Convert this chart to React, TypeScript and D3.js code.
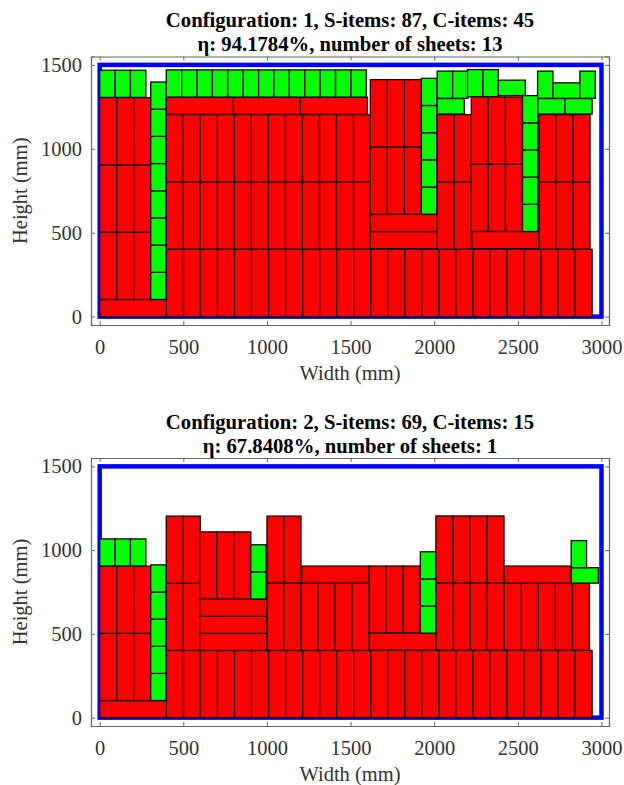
import React, { useEffect, useRef } from 'react';
import * as d3 from 'd3';

// item sizes in mm: [width, height] as placed upright
const sItem = [101.8, 401];
const cItem = [92, 162];

// runs of identical items: [kind, rotated, x, y, columns, rows]
type Run = [string, number, number, number, number, number];

const sheetOneRuns: Run[] = [
    ['S', 1, 0, 0, 1, 1],
    ['S', 0, 0, 102, 3, 3],
    ['C', 0, 305, 102, 1, 8],
    ['C', 0, 0, 1306, 3, 1],
    ['S', 0, 399, 0, 25, 1],
    ['S', 0, 398, 402, 12, 2],
    ['S', 1, 398, 1205, 3, 1],
    ['C', 0, 398, 1308, 13, 1],
    ['S', 0, 1618, 610, 3, 2],
    ['S', 1, 1618, 405, 1, 2],
    ['C', 0, 1923, 610, 1, 5],
    ['S', 0, 2018, 402, 2, 2],
    ['C', 1, 2018, 1207, 1, 1],
    ['C', 0, 2018, 1301, 2, 1],
    ['C', 0, 2199, 1310, 2, 1],
    ['C', 1, 2383, 1317, 1, 1],
    ['S', 0, 2222, 507, 3, 2],
    ['S', 1, 2225, 405, 1, 1],
    ['C', 0, 2528, 507, 1, 5],
    ['S', 0, 2626, 402, 3, 2],
    ['C', 1, 2620, 1207, 2, 1],
    ['C', 0, 2618, 1301, 1, 1],
    ['C', 1, 2710, 1301, 1, 1],
    ['C', 0, 2871, 1301, 1, 1]
];

const sheetTwoRuns: Run[] = [
    ['S', 1, 0, 0, 1, 1],
    ['S', 0, 0, 102, 3, 2],
    ['C', 0, 0, 905, 3, 1],
    ['C', 0, 305, 102, 1, 5],
    ['S', 0, 399, 0, 25, 1],
    ['S', 0, 398, 401, 2, 2],
    ['S', 1, 598, 401, 1, 3],
    ['S', 0, 598, 708, 3, 1],
    ['C', 0, 903, 708, 1, 2],
    ['S', 0, 1000, 802, 2, 1],
    ['S', 0, 1000, 401, 6, 1],
    ['S', 1, 1208, 803, 1, 1],
    ['S', 0, 1610, 504, 3, 1],
    ['S', 1, 1610, 403, 1, 1],
    ['C', 0, 1917, 504, 1, 3],
    ['S', 0, 2010, 803, 4, 1],
    ['S', 0, 2012, 402, 9, 1],
    ['S', 1, 2419, 803, 1, 1],
    ['C', 1, 2819, 803, 1, 1],
    ['C', 0, 2819, 895, 1, 1]
];

const sheetTitles = [
    ['Configuration: 1, S-items: 87, C-items: 45', 'η: 94.1784%, number of sheets: 13'],
    ['Configuration: 2, S-items: 69, C-items: 15', 'η: 67.8408%, number of sheets: 1']
];

const xTicks = [0, 500, 1000, 1500, 2000, 2500, 3000];
const yTicks = [0, 500, 1000, 1500];

const width = 624;
const height = 785;
const left = 91;
const right = 609;
const font = '"Liberation Serif", serif';

// one rectangle per item out of the runs
function expand(runs: Run[]) {
    const items: any[] = [];
    runs.forEach(([kind, rotated, x, y, cols, rows]) => {
        const base = kind === 'S' ? sItem : cItem;
        const w = rotated ? base[1] : base[0];
        const h = rotated ? base[0] : base[1];
        for (let r = 0; r < rows; r++) {
            for (let c = 0; c < cols; c++) {
                items.push({ kind, x: x + c * w, y: y + r * h, w, h });
            }
        }
    });
    return items;
}

function Sheet({ runs, titles, top, bottom }: { runs: Run[]; titles: string[]; top: number; bottom: number }) {
    const xAxisRef = useRef<SVGGElement>(null);
    const yAxisRef = useRef<SVGGElement>(null);
    const xAxisTopRef = useRef<SVGGElement>(null);
    const yAxisRightRef = useRef<SVGGElement>(null);

    const xScale = d3.scaleLinear().domain([-52, 3045]).range([left, right]);
    const yScale = d3.scaleLinear().domain([-50, 1550]).range([bottom, top]);

    useEffect(() => {
        const style = (sel: any) => {
            sel.selectAll('path').attr('stroke', '#666').attr('stroke-width', 1.2);
            sel.selectAll('line').attr('stroke', '#666').attr('stroke-width', 1);
            sel.selectAll('text').attr('fill', '#333').attr('font-family', font).attr('font-size', 20.5);
        };
        const xb = d3.select(xAxisRef.current!);
        xb.call(d3.axisBottom(xScale).tickValues(xTicks).tickFormat(d3.format('d') as any).tickSize(-4).tickPadding(14));
        style(xb);
        const yl = d3.select(yAxisRef.current!);
        yl.call(d3.axisLeft(yScale).tickValues(yTicks).tickFormat(d3.format('d') as any).tickSize(-4).tickPadding(9));
        style(yl);
        const xt = d3.select(xAxisTopRef.current!);
        xt.call(d3.axisTop(xScale).tickValues(xTicks).tickFormat(() => '').tickSize(-4));
        style(xt);
        const yr = d3.select(yAxisRightRef.current!);
        yr.call(d3.axisRight(yScale).tickValues(yTicks).tickFormat(() => '').tickSize(-4));
        style(yr);
    }, []);

    const items = expand(runs);
    const midX = (left + right) / 2;
    const midY = (top + bottom) / 2;

    return (
        <g>
            <text x={350} y={top - 29.5} textAnchor="middle" fontFamily={font} fontWeight="bold" fontSize={20.7} fill="#000">{titles[0]}</text>
            <text x={350} y={top - 5.5} textAnchor="middle" fontFamily={font} fontWeight="bold" fontSize={20.7} fill="#000">{titles[1]}</text>
            <rect
                x={xScale(0)}
                y={yScale(1500)}
                width={xScale(3000) - xScale(0)}
                height={yScale(0) - yScale(1500)}
                fill="none"
                stroke="#0000ff"
                strokeWidth={4.5}
            />
            {items.map((d, i) => (
                <rect
                    key={i}
                    x={xScale(d.x)}
                    y={yScale(d.y + d.h)}
                    width={xScale(d.x + d.w) - xScale(d.x)}
                    height={yScale(d.y) - yScale(d.y + d.h)}
                    fill={d.kind === 'S' ? '#ff0000' : '#00ff00'}
                    stroke="#1a0000"
                    strokeWidth={1.3}
                />
            ))}
            <g ref={xAxisRef} transform={`translate(0, ${bottom})`} />
            <g ref={yAxisRef} transform={`translate(${left}, 0)`} />
            <g ref={xAxisTopRef} transform={`translate(0, ${top})`} />
            <g ref={yAxisRightRef} transform={`translate(${right}, 0)`} />
            <text x={midX} y={bottom + 54.5} textAnchor="middle" fontFamily={font} fontSize={20.5} fill="#333">Width (mm)</text>
            <text transform={`translate(27, ${midY}) rotate(-90)`} textAnchor="middle" fontFamily={font} fontSize={20.5} fill="#333">Height (mm)</text>
        </g>
    );
}

export default function App() {
    return (
        <svg width={width} height={height} style={{ position: 'absolute', left: 0, top: 0 }}>
            <rect width={width} height={height} fill="#fff" />
            <Sheet runs={sheetOneRuns} titles={sheetTitles[0]} top={56.5} bottom={325} />
            <Sheet runs={sheetTwoRuns} titles={sheetTitles[1]} top={458} bottom={726} />
        </svg>
    );
}
